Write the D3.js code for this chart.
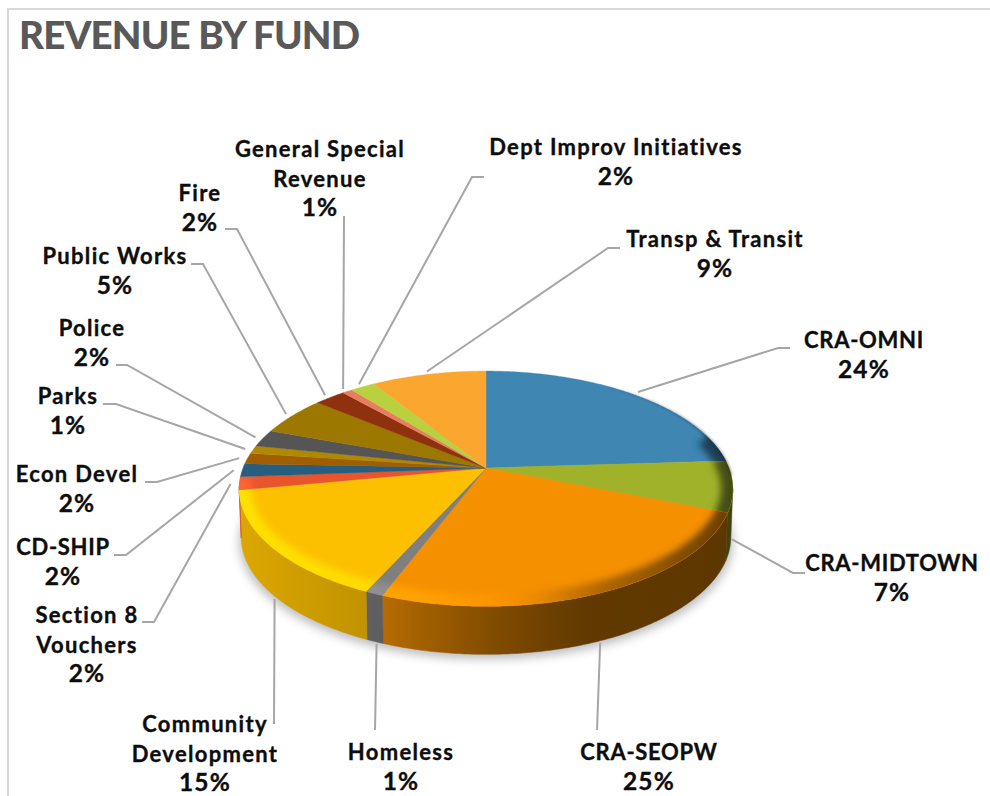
<!DOCTYPE html>
<html><head><meta charset="utf-8">
<script src="https://cdn.jsdelivr.net/npm/d3@7"></script>
<style>
html,body{margin:0;padding:0;background:#fff;overflow:hidden}
svg{display:block}
text{font-family:Lato,sans-serif}
</style></head><body>
<svg id="c" width="990" height="796"></svg>
<script>
const titleText = "REVENUE BY FUND";
const categories = ["CRA-OMNI","CRA-MIDTOWN","CRA-SEOPW","Homeless","Community Development","Section 8 Vouchers","CD-SHIP","Econ Devel","Parks","Police","Public Works","Fire","General Special Revenue","Dept Improv Initiatives","Transp & Transit"];
const values = [24,7,24.8,1,15.2,1.8,1.8,1.5,1.1,2.4,5.4,2.4,0.8,1.9,8.9];
const colors = ["#3f86b2","#a0b22a","#f59000","#7f7f7f","#fdc000","#e8552c","#255e7e","#a15e00","#b08900","#555555","#9c7800","#8f300f","#e57f5f","#bad13f","#fba62e"];
const labelLines = [["CRA-OMNI"],["CRA-MIDTOWN"],["CRA-SEOPW"],["Homeless"],["Community","Development"],["Section 8","Vouchers"],["CD-SHIP"],["Econ Devel"],["Parks"],["Police"],["Public Works"],["Fire"],["General Special","Revenue"],["Dept Improv Initiatives"],["Transp & Transit"]];

// label placement: text centre, first baseline, leader bend points
const layout = [
 {x:864,y:348,bend:[[778,348],[790,348]]},
 {x:892,y:571,bend:[[793,573],[805,573]]},
 {x:649,y:760,bend:[[597,730]]},
 {x:401,y:760,bend:[[375,730]]},
 {x:205,y:732,bend:[[274,724]]},
 {x:87,y:623,bend:[[154,622],[142,622]]},
 {x:63,y:555,bend:[[126,555],[114,555]]},
 {x:77,y:482,bend:[[157,482],[145,482]]},
 {x:68,y:404,bend:[[116,404],[103,404]]},
 {x:92,y:336,bend:[[127,365],[116,365]]},
 {x:115,y:264,bend:[[203,264],[191,264]]},
 {x:200,y:201,bend:[[237,229],[225,229]]},
 {x:320,y:157,bend:[[344,216]]},
 {x:616,y:155,bend:[[472,177],[484,177]]},
 {x:715,y:247,bend:[[608,248],[620,248]]}
];

const W=990,H=796, cx=486, cy=468, R=243, Ry=114, P=0.176, wall=48;
const svg=d3.select("#c"), defs=svg.append("defs");
const f1=defs.append("filter").attr("id","b5").attr("x","-20%").attr("y","-20%").attr("width","140%").attr("height","140%");
f1.append("feGaussianBlur").attr("stdDeviation",5);
const f2=defs.append("filter").attr("id","b3").attr("filterUnits","userSpaceOnUse").attr("x",0).attr("y",0).attr("width",W).attr("height",H);
f2.append("feGaussianBlur").attr("stdDeviation",3.5);
const f3=defs.append("filter").attr("id","b1").attr("filterUnits","userSpaceOnUse").attr("x",0).attr("y",0).attr("width",W).attr("height",H);
f3.append("feGaussianBlur").attr("stdDeviation",1);

const proj=(a,r=1)=>{const u=Math.sin(a)*r,v=-Math.cos(a)*r,w=1-P*v;return [cx+R*u/w,cy+Ry*v/w];};
const arcPts=(a0,a1,r=1)=>{const n=Math.max(2,Math.ceil((a1-a0)/0.01));return d3.range(n+1).map(i=>proj(a0+(a1-a0)*i/n,r));};
const line=d3.line();
const arcs=d3.pie().sort(null).value(d=>d)(values);

const wallK=d3.scaleLinear().domain([240,380,480,580,735]).range([0.87,0.75,0.55,0.40,0.38]).clamp(true);
const rimK=d3.scaleLinear().domain([240,420,530,600,735]).range([1.17,1.12,0.98,0.72,0.42]).clamp(true);
const tint=(c,k)=>{const q=d3.rgb(c);return d3.rgb(Math.min(255,q.r*k),Math.min(255,q.g*k),Math.min(255,q.b*k)).formatHex();};
const grad=(id,c,scale)=>{const g=defs.append("linearGradient").attr("id",id).attr("gradientUnits","userSpaceOnUse").attr("x1",240).attr("x2",735).attr("y1",0).attr("y2",0);
  d3.range(0,1.0001,0.05).forEach(t=>g.append("stop").attr("offset",t).attr("stop-color",tint(c,scale(240+495*t))));};

// shadow
const rimAll=arcPts(0,2*Math.PI);
svg.append("path").attr("d",line(rimAll.map(p=>[p[0],p[1]+wall]))+"Z").attr("fill","#8a8a8f").attr("opacity",.55).attr("filter","url(#b5)").attr("transform","translate(0,5)");

// walls: only the part of each slice that faces the viewer
const wallFrom=Math.PI/2+Math.asin(P), wallTo=Math.PI*1.5-Math.asin(P)+0.02;
arcs.forEach((d,i)=>{
  grad("w"+i,colors[i],wallK);grad("r"+i,colors[i],rimK);
  const a0=Math.max(d.startAngle,wallFrom),a1=Math.min(d.endAngle,wallTo);
  if(a1<=a0)return;
  const top=arcPts(a0,a1);
  const bot=top.map(p=>[cx+(p[0]-cx)*0.992,p[1]+wall]).reverse();
  svg.append("path").attr("d",line(top.concat(bot))+"Z").attr("fill",`url(#w${i})`).attr("stroke",`url(#w${i})`).attr("stroke-width",.5);
});
// top face
arcs.forEach((d,i)=>{
  const pts=[[cx,cy]].concat(arcPts(d.startAngle,d.endAngle));
  const dd=line(pts)+"Z";
  defs.append("clipPath").attr("id","c"+i).append("path").attr("d",dd);
  svg.append("path").attr("d",dd).attr("fill",colors[i]).attr("stroke",colors[i]).attr("stroke-width",.4);
});
// bevel along the front rim
const frontFrom=Math.PI*0.42, frontTo=Math.PI*1.46;
arcs.forEach((d,i)=>{
  const a0=Math.max(d.startAngle,frontFrom),a1=Math.min(d.endAngle,frontTo);
  if(a1<=a0)return;
  svg.append("g").attr("clip-path",`url(#c${i})`).append("path")
   .attr("d",line(arcPts(a0-0.05,a1+0.05,1.0))).attr("fill","none")
   .attr("stroke",`url(#r${i})`).attr("stroke-width",24).attr("filter","url(#b3)");
});
// faint dark edge on the far right rim
const edge=defs.append("linearGradient").attr("id","edge").attr("gradientUnits","userSpaceOnUse").attr("x1",600).attr("x2",735).attr("y1",0).attr("y2",0);
edge.append("stop").attr("offset",0).attr("stop-color","#222").attr("stop-opacity",0);
edge.append("stop").attr("offset",1).attr("stop-color","#222").attr("stop-opacity",.5);
svg.append("path").attr("d",line(arcPts(0.3,Math.PI*0.52))).attr("fill","none").attr("stroke","url(#edge)").attr("stroke-width",2).attr("filter","url(#b1)");

// frame
svg.append("path").attr("d",`M8,${H}V9H${W}`).attr("fill","none").attr("stroke","#d9d9d9").attr("stroke-width",2);

// title
svg.append("text").attr("x",19).attr("y",49).attr("font-size",38.5).attr("font-weight",900).attr("fill","#595959").attr("letter-spacing",-.85).text(titleText);

// leaders + labels
arcs.forEach((d,i)=>{
  const mid=(d.startAngle+d.endAngle)/2, v=-Math.cos(mid), front=v>0.15;
  const s=proj(mid,front?1-0.02*v:1.035), start=front?[s[0],s[1]+wall+5]:s;
  svg.append("path").attr("d",line([start].concat(layout[i].bend))).attr("fill","none").attr("stroke","#a6a6a6").attr("stroke-width",2);
  const lines=labelLines[i].concat([Math.round(values[i])+"%"]);
  const t=svg.append("text").attr("text-anchor","middle").attr("font-size",22).attr("font-weight",700).attr("fill","#0d0d0d").attr("stroke","#0d0d0d").attr("stroke-width",.35);
  lines.forEach((l,j)=>{
    const pct=j===lines.length-1, caps=l===l.toUpperCase();
    t.append("tspan").attr("x",layout[i].x).attr("y",layout[i].y+j*29.5)
     .attr("font-size",pct?24.5:22).attr("letter-spacing",pct?1.2:(caps?0.7:1.3)).text(l);
  });
});
</script>
</body></html>
